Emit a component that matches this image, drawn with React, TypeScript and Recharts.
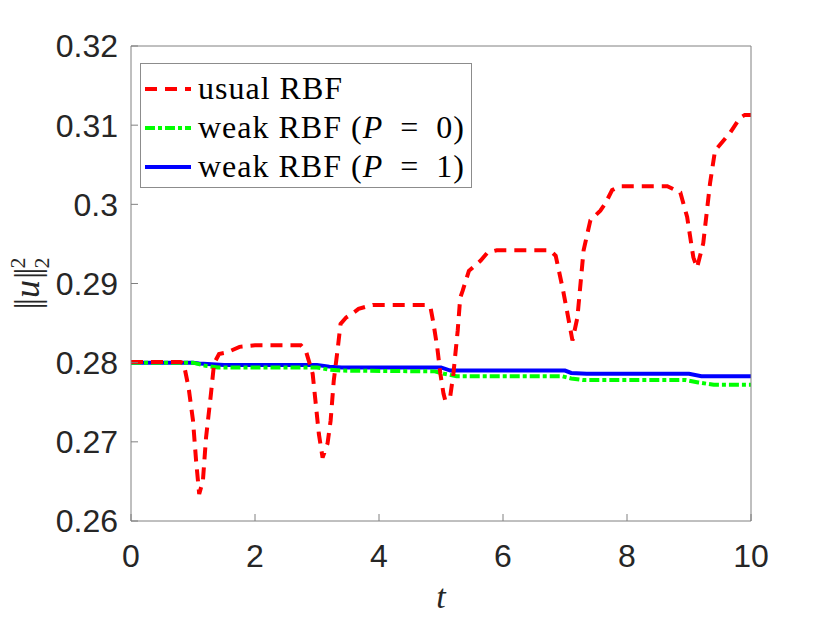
import { LineChart, Line, XAxis, YAxis, Legend } from 'recharts';

// values
const redT = [0, 0.8, 0.85, 0.93, 1.0, 1.05, 1.1, 1.16, 1.21, 1.29, 1.34, 1.42, 1.55, 1.75, 2.0, 2.74, 2.82, 2.93, 2.98, 3.03, 3.09, 3.17, 3.22, 3.27, 3.33, 3.38, 3.47, 3.57, 3.67, 3.9, 4.75, 4.83, 4.88, 4.94, 4.99, 5.04, 5.07, 5.15, 5.2, 5.27, 5.31, 5.35, 5.45, 5.64, 5.75, 5.9, 6.76, 6.85, 6.97, 7.04, 7.12, 7.2, 7.3, 7.41, 7.57, 7.65, 7.76, 7.89, 8.65, 8.86, 8.97, 9.07, 9.13, 9.23, 9.34, 9.42, 9.66, 9.82, 9.9, 10];
const redU = [0.2801, 0.2801, 0.2799, 0.2768, 0.2727, 0.2676, 0.2634, 0.2651, 0.2705, 0.2761, 0.2799, 0.2811, 0.2813, 0.282, 0.2822, 0.2822, 0.2815, 0.2786, 0.2748, 0.271, 0.268, 0.2698, 0.2727, 0.2777, 0.2815, 0.2849, 0.2857, 0.2862, 0.2868, 0.2873, 0.2873, 0.287, 0.2849, 0.2819, 0.2786, 0.2761, 0.2752, 0.2758, 0.2786, 0.2841, 0.2882, 0.2891, 0.2916, 0.2929, 0.2939, 0.2942, 0.2942, 0.2935, 0.2891, 0.2862, 0.2828, 0.2857, 0.2942, 0.298, 0.2992, 0.3001, 0.3018, 0.3023, 0.3023, 0.3015, 0.2984, 0.2933, 0.292, 0.2951, 0.3027, 0.3068, 0.309, 0.3109, 0.3113, 0.3113];

const greenT = [0, 1.0, 1.2, 1.4, 3.0, 3.2, 3.4, 4.9, 5.05, 5.25, 6.95, 7.1, 7.3, 8.95, 9.15, 9.4, 10];
const greenU = [0.28, 0.28, 0.2796, 0.2794, 0.2794, 0.2791, 0.279, 0.2789, 0.2786, 0.2783, 0.2783, 0.278, 0.2778, 0.2778, 0.2775, 0.2772, 0.2772];

const blueT = [0, 1.0, 1.1, 1.3, 1.5, 3.0, 3.2, 3.4, 5.0, 5.15, 7.0, 7.1, 7.35, 9.0, 9.2, 10];
const blueU = [0.28, 0.28, 0.2799, 0.2798, 0.2797, 0.2797, 0.2795, 0.2794, 0.2794, 0.279, 0.279, 0.2787, 0.2786, 0.2786, 0.2783, 0.2783];

const xTicks = [0, 2, 4, 6, 8, 10];
const yTicks = [0.26, 0.27, 0.28, 0.29, 0.3, 0.31, 0.32];

const series = [
  { key: 'usual', pVal: null, color: '#ff0000', dash: '12 8' },
  { key: 'p0', pVal: 0, color: '#00ff00', dash: '10 3 4 3' },
  { key: 'p1', pVal: 1, color: '#0000ff', dash: undefined },
];

const zip = (t: number[], u: number[]) => t.map((v, i) => ({ t: v, u: u[i] }));
const redData = zip(redT, redU);
const greenData = zip(greenT, greenU);
const blueData = zip(blueT, blueU);

const AXIS = '#808080';
const TEXT = '#262626';
const tickFont = { fill: TEXT, fontSize: 32, fontFamily: "'Liberation Sans', Arial, sans-serif" };
const serif = "'Liberation Serif', 'Times New Roman', serif";

function YLabel(props: any) {
  const vb = props.viewBox || { x: 51, y: 46, width: 80, height: 475 };
  const x = vb.x - 12;
  const y = vb.y + vb.height / 2;
  return (
    <text x={x} y={y} transform={`rotate(-90 ${x} ${y})`} textAnchor="middle" fontFamily={serif} fontSize={36} fill={TEXT}>
      <tspan letterSpacing={-3}>||</tspan>
      <tspan fontStyle="italic" dx={3}>u</tspan>
      <tspan letterSpacing={-3} dx={1}>||</tspan>
      <tspan fontSize={22} dx={2} dy={-14}>2</tspan>
      <tspan fontSize={22} dx={-11} dy={24}>2</tspan>
    </text>
  );
}

function XLabel(props: any) {
  const vb = props.viewBox || { x: 131, y: 521, width: 620, height: 60 };
  return (
    <text x={vb.x + vb.width / 2} y={vb.y + 87} textAnchor="middle" fontFamily={serif} fontStyle="italic" fontSize={34} fill={TEXT}>
      t
    </text>
  );
}

function LegendBox() {
  return (
    <div
      style={{
        border: '1px solid #8c8c8c',
        background: '#fff',
        width: 332,
        height: 125,
        padding: '5px 0 0 4px',
        boxSizing: 'border-box',
        fontFamily: serif,
        fontSize: 32,
        color: '#000',
        letterSpacing: 1,
      }}
    >
      {series.map((s) => (
        <div key={s.key} style={{ display: 'flex', alignItems: 'center', height: 39, whiteSpace: 'nowrap' }}>
          <svg width={48} height={10} style={{ marginRight: 5 }}>
            <line x1={0} y1={5} x2={46} y2={5} stroke={s.color} strokeWidth={4} strokeDasharray={s.dash} />
          </svg>
          {s.pVal === null ? (
            <span>usual RBF</span>
          ) : (
            <span>
              weak RBF (<i>P</i>{'\u2002=\u2002'}{s.pVal})
            </span>
          )}
        </div>
      ))}
    </div>
  );
}

export default function App() {
  return (
    <div style={{ position: 'absolute', left: 0, top: 0, background: '#fff' }}>
      <LineChart width={830} height={623} margin={{ top: 45, right: 78, bottom: 42, left: 51 }}>
        <XAxis
          dataKey="t"
          type="number"
          domain={[0, 10]}
          ticks={xTicks}
          allowDataOverflow
          height={60}
          stroke={AXIS}
          tickSize={-7}
          tickMargin={30}
          tick={tickFont}
          label={<XLabel />}
        />
        <XAxis
          xAxisId="top"
          orientation="top"
          dataKey="t"
          type="number"
          domain={[0, 10]}
          ticks={xTicks}
          allowDataOverflow
          height={1}
          stroke={AXIS}
          tickSize={-7}
          tick={false}
        />
        <YAxis
          type="number"
          domain={[0.26, 0.32]}
          ticks={yTicks}
          allowDataOverflow
          width={80}
          stroke={AXIS}
          tickSize={-7}
          tickMargin={20}
          tick={tickFont}
          tickFormatter={(v: number) => String(Number(v.toFixed(2)))}
          label={<YLabel />}
        />
        <YAxis
          yAxisId="right"
          orientation="right"
          type="number"
          domain={[0.26, 0.32]}
          ticks={yTicks}
          allowDataOverflow
          width={1}
          stroke={AXIS}
          tickSize={-7}
          tick={false}
        />
        <Legend
          layout="vertical"
          align="center"
          verticalAlign="middle"
          content={<LegendBox />}
          wrapperStyle={{ left: 140, top: 63, width: 'auto', height: 'auto' }}
        />
        {/* invisible copy that ties the box axes (top/right) to data so they render */}
        <Line data={blueData} xAxisId="top" yAxisId="right" dataKey="u" stroke="none" dot={false} legendType="none" isAnimationActive={false} />
        <Line data={blueData} dataKey="u" type="linear" stroke="#0000ff" strokeWidth={4} dot={false} isAnimationActive={false} />
        <Line data={greenData} dataKey="u" type="linear" stroke="#00ff00" strokeWidth={4} strokeDasharray="10 3 4 3" dot={false} isAnimationActive={false} />
        <Line data={redData} dataKey="u" type="linear" stroke="#ff0000" strokeWidth={4} strokeDasharray="12 8" dot={false} isAnimationActive={false} />
      </LineChart>
    </div>
  );
}
